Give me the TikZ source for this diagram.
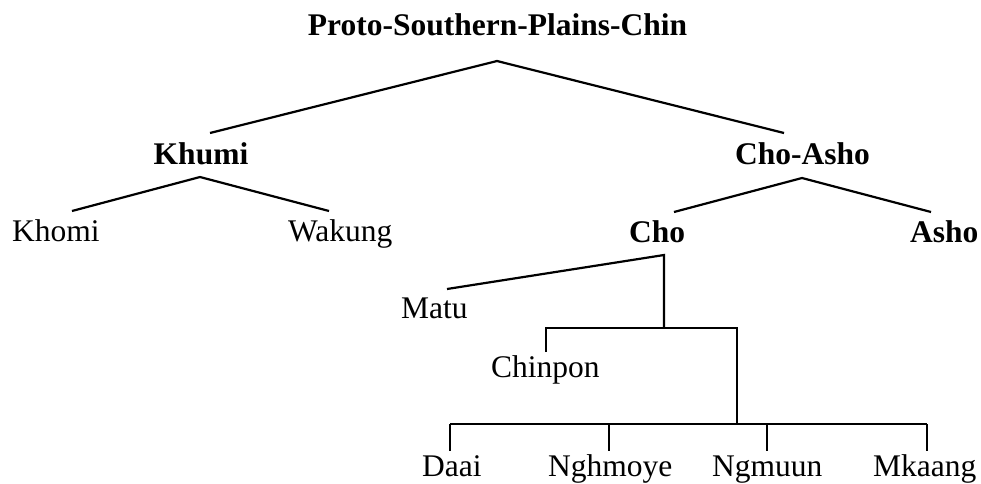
\documentclass[tikz,border=0pt]{standalone}
\usepackage{fontspec}
\setmainfont{Liberation Serif}
\tikzset{
  lang/.style={anchor=base west,inner sep=0pt,font=\fontsize{31.5}{36}\selectfont},
  group/.style={lang,font=\fontsize{31.5}{36}\selectfont\bfseries},
  branch/.style={line width=2.2pt,line join=miter}
}
\begin{document}
\begin{tikzpicture}[x=1pt,y=-1pt]
  \useasboundingbox (0,0) rectangle (981,483);
  % labels
  \node[group,anchor=base] (psc) at (497.5,35) {Proto-Southern-Plains-Chin};
  \node[group,anchor=base] (khumi) at (201,164) {Khumi};
  \node[group,anchor=base] (choasho) at (802.5,164) {Cho-Asho};
  \node[lang] (khomi) at (12,241) {Khomi};
  \node[lang] (wakung) at (288,241) {Wakung};
  \node[group] (cho) at (629,242) {Cho};
  \node[group] (asho) at (910,242) {Asho};
  \node[lang] (matu) at (401,318) {Matu};
  \node[lang] (chinpon) at (491,377) {Chinpon};
  \node[lang] (daai) at (422,476) {Daai};
  \node[lang] (nghmoye) at (548,476) {Nghmoye};
  \node[lang] (ngmuun) at (712,476) {Ngmuun};
  \node[lang] (mkaang) at (873,476) {Mkaang};
  % branch points
  \coordinate (psc-j) at (497,61);
  \coordinate (khumi-up) at (210,133);
  \coordinate (choasho-up) at (784,133);
  \coordinate (khumi-j) at (200,177);
  \coordinate (khomi-up) at (72,211);
  \coordinate (wakung-up) at (329,211);
  \coordinate (choasho-j) at (802,178);
  \coordinate (cho-up) at (674,212);
  \coordinate (asho-up) at (931,212);
  \coordinate (cho-j) at (664,255);
  \coordinate (matu-up) at (447,289);
  \coordinate (cho-mid) at (664,328);
  \coordinate (chinpon-up) at (546,352);
  \coordinate (sub-j) at (737,328);
  \coordinate (sub-mid) at (737,424);
  \coordinate (bar-l) at (450,424);
  \coordinate (bar-r) at (927,424);
  % tree
  \draw[branch] (khumi-up) -- (psc-j) -- (choasho-up);
  \draw[branch] (khomi-up) -- (khumi-j) -- (wakung-up);
  \draw[branch] (cho-up) -- (choasho-j) -- (asho-up);
  \draw[branch] (matu-up) -- (cho-j) -- (cho-mid);
  \draw[branch] (chinpon-up) -- (546,328) -- (sub-j) -- (sub-mid);
  \draw[branch] (bar-l) -- (bar-r);
  \foreach \tx in {450,609,767,927}
    \draw[branch] (\tx,424) -- (\tx,451);
\end{tikzpicture}
\end{document}
